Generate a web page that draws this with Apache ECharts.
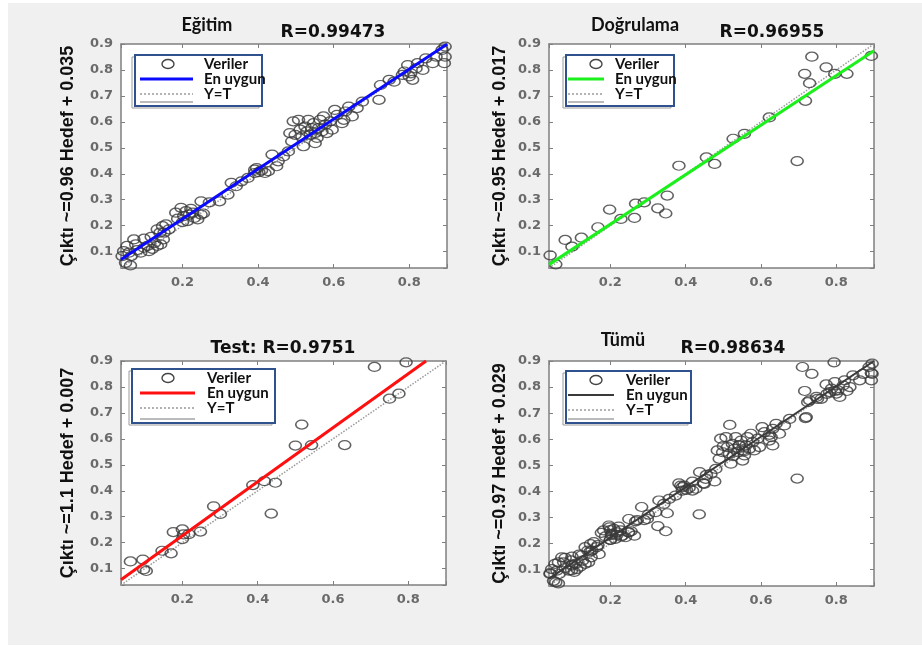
<!DOCTYPE html>
<html>
<head>
<meta charset="utf-8">
<script src="https://cdn.jsdelivr.net/npm/echarts@6/dist/echarts.min.js"></script>
<style>
  html, body { margin: 0; padding: 0; background: #fff; }
  #chart { width: 922px; height: 646px; }
</style>
</head>
<body>
<div id="chart"></div>
<script>
'use strict';

// axis range shared by all four panels
var AX_MIN = 0.037;
var AX_MAX = 0.9;

// Eğitim (training) points [hedef, çıktı]
var egitimPts = [
  [0.04, 0.083], [0.044, 0.102], [0.053, 0.122], [0.064, 0.083], [0.062, 0.047], [0.049, 0.057],
  [0.076, 0.128], [0.080, 0.106], [0.089, 0.096], [0.098, 0.115], [0.107, 0.122], [0.111, 0.102],
  [0.126, 0.134], [0.133, 0.122], [0.142, 0.128], [0.149, 0.147], [0.140, 0.173], [0.133, 0.186],
  [0.147, 0.198], [0.156, 0.205], [0.117, 0.157], [0.071, 0.147], [0.098, 0.150], [0.151, 0.173],
  [0.164, 0.186], [0.058, 0.096], [0.120, 0.111],
  [0.182, 0.250], [0.196, 0.269], [0.203, 0.237], [0.209, 0.256], [0.218, 0.243], [0.222, 0.265],
  [0.231, 0.230], [0.240, 0.224], [0.249, 0.243], [0.255, 0.247], [0.249, 0.294], [0.271, 0.290],
  [0.200, 0.214], [0.213, 0.218], [0.227, 0.250], [0.187, 0.227],
  [0.298, 0.294], [0.320, 0.320], [0.329, 0.365], [0.342, 0.352], [0.356, 0.371], [0.373, 0.384],
  [0.391, 0.403], [0.396, 0.422], [0.402, 0.406], [0.409, 0.413], [0.418, 0.403], [0.427, 0.410],
  [0.437, 0.474], [0.449, 0.429], [0.453, 0.448], [0.391, 0.416],
  [0.467, 0.467], [0.480, 0.486], [0.489, 0.525], [0.484, 0.557], [0.498, 0.550], [0.493, 0.602],
  [0.507, 0.608], [0.511, 0.570], [0.516, 0.544], [0.520, 0.506], [0.524, 0.582], [0.529, 0.563],
  [0.533, 0.608], [0.538, 0.550], [0.542, 0.576], [0.547, 0.595], [0.551, 0.557], [0.556, 0.538],
  [0.560, 0.576], [0.564, 0.608], [0.569, 0.563], [0.573, 0.621], [0.578, 0.589], [0.582, 0.557],
  [0.591, 0.602], [0.596, 0.570], [0.603, 0.646], [0.609, 0.627], [0.622, 0.595], [0.627, 0.608],
  [0.631, 0.640], [0.640, 0.659], [0.649, 0.621], [0.662, 0.653], [0.676, 0.678], [0.551, 0.518],
  [0.720, 0.685], [0.724, 0.742], [0.747, 0.762], [0.760, 0.755], [0.782, 0.781], [0.787, 0.794],
  [0.796, 0.819], [0.804, 0.787], [0.809, 0.762], [0.818, 0.806], [0.822, 0.826], [0.836, 0.800],
  [0.844, 0.845], [0.862, 0.826], [0.871, 0.851], [0.887, 0.877], [0.893, 0.826], [0.895, 0.851],
  [0.895, 0.890], [0.800, 0.775]
];

// Doğrulama (validation) points
var dogrulamaPts = [
  [0.04, 0.086], [0.055, 0.051], [0.080, 0.145], [0.098, 0.119], [0.123, 0.154], [0.167, 0.194],
  [0.198, 0.262], [0.228, 0.226], [0.264, 0.230], [0.267, 0.285], [0.290, 0.290], [0.326, 0.267],
  [0.347, 0.247], [0.351, 0.316], [0.382, 0.431], [0.455, 0.463], [0.477, 0.438], [0.526, 0.535],
  [0.556, 0.554], [0.622, 0.617], [0.696, 0.449], [0.716, 0.785], [0.718, 0.681], [0.729, 0.749],
  [0.735, 0.851], [0.773, 0.810], [0.796, 0.785], [0.828, 0.785], [0.893, 0.854]
];

// Test points
var testPts = [
  [0.062, 0.128], [0.095, 0.135], [0.097, 0.097], [0.104, 0.091], [0.146, 0.169], [0.170, 0.159],
  [0.176, 0.241], [0.200, 0.251], [0.203, 0.232], [0.200, 0.214], [0.217, 0.233], [0.248, 0.243],
  [0.283, 0.340], [0.301, 0.311], [0.387, 0.422], [0.418, 0.437], [0.447, 0.431], [0.436, 0.312],
  [0.500, 0.574], [0.517, 0.655], [0.543, 0.576], [0.631, 0.576], [0.710, 0.877], [0.750, 0.755],
  [0.775, 0.774], [0.794, 0.895]
];

// Tümü = all points
var tumuPts = egitimPts.concat(dogrulamaPts, testPts);

// fitted lines (end points) and the Y=T line
var egitimFit = [[0.037, 0.070], [0.9, 0.899]];
var dogrulamaFit = [[0.037, 0.050], [0.9, 0.874]];
var testFit = [[0.037, 0.057], [0.847, 0.9]];
var tumuFit = [[0.037, 0.065], [0.9, 0.9]];
var identityLine = [[0.037, 0.037], [0.9, 0.9]];

var panelTitles = ['Eğitim', 'Doğrulama', '', 'Tümü'];
var rTitles = ['R=0.99473', 'R=0.96955', 'Test: R=0.9751', 'R=0.98634'];
var yNames = [
  'Çıktı ~=0.96 Hedef + 0.035',
  'Çıktı ~=0.95 Hedef + 0.017',
  'Çıktı ~=1.1 Hedef + 0.007',
  'Çıktı ~=0.97 Hedef + 0.029'
];
var legendNames = ['Veriler', 'En uygun', 'Y=T'];

var panels = [
  { grid: { left: 121, top: 44, width: 326, height: 224 }, pts: egitimPts, fit: egitimFit, color: '#0a0aff', fitWidth: 3,
    titlePos: [207, 16], rPos: [333, 24], nameGap: 44, legend: { x: 135, y: 55, w: 127, h: 51, mark: 168, line: [140, 193], text: 204 } },
  { grid: { left: 549, top: 44, width: 325, height: 224 }, pts: dogrulamaPts, fit: dogrulamaFit, color: '#1cf01c', fitWidth: 3,
    titlePos: [635, 16], rPos: [772, 24], nameGap: 40, legend: { x: 566, y: 55, w: 108, h: 51, mark: 596, line: [568, 604], text: 615 } },
  { grid: { left: 121, top: 361, width: 325, height: 224 }, pts: testPts, fit: testFit, color: '#ff1010', fitWidth: 3,
    titlePos: [283, 340], rPos: [283, 340], nameGap: 44, legend: { x: 132, y: 369, w: 143, h: 54, mark: 168, line: [140, 195], text: 207 } },
  { grid: { left: 549, top: 361, width: 325, height: 225 }, pts: tumuPts, fit: tumuFit, color: '#3a3a3a', fitWidth: 2,
    titlePos: [623, 331], rPos: [733, 340], nameGap: 40, legend: { x: 566, y: 371, w: 125, h: 52, mark: 596, line: [568, 614], text: 626 } }
];

var AXIS_COLOR = '#7f7f7f';
var LABEL_STYLE = { fontFamily: 'DejaVu Sans', fontWeight: 'bold', fontSize: 13, color: '#6a6a6a' };

function stepLabel(step) {
  return function(v) {
    var r = Math.round(v / step) * step;
    return Math.abs(v - r) < 1e-6 ? r.toFixed(1) : '';
  };
}

function makeXAxis(i, top) {
  return {
    type: 'value', gridIndex: i, min: AX_MIN, max: AX_MAX, splitNumber: 4,
    position: top ? 'top' : 'bottom',
    axisLine: { show: true, onZero: false, lineStyle: { color: AXIS_COLOR, width: 1.5 } },
    axisTick: { show: true, inside: true, length: 4, lineStyle: { color: AXIS_COLOR } },
    axisLabel: top ? { show: false } : Object.assign({ margin: 8, formatter: stepLabel(0.2) }, LABEL_STYLE),
    splitLine: { show: false }
  };
}

function makeYAxis(i, right) {
  var ax = {
    type: 'value', gridIndex: i, min: AX_MIN, max: AX_MAX, splitNumber: 8,
    position: right ? 'right' : 'left',
    axisLine: { show: true, onZero: false, lineStyle: { color: AXIS_COLOR, width: 1.5 } },
    axisTick: { show: true, inside: true, length: 4, lineStyle: { color: AXIS_COLOR } },
    axisLabel: right ? { show: false } : Object.assign({ margin: 8, formatter: stepLabel(0.1) }, LABEL_STYLE),
    splitLine: { show: false }
  };
  if (!right) {
    ax.name = yNames[i];
    ax.nameLocation = 'middle';
    ax.nameRotate = 90;
    ax.nameGap = panels[i].nameGap;
    ax.nameTextStyle = { fontFamily: 'Liberation Sans', fontWeight: 'bold', fontSize: 18, color: '#111' };
  }
  return ax;
}

function legendGraphic(p) {
  var L = p.legend;
  var rowY = [L.y + 9, L.y + 24, L.y + 39];
  var els = [
    { type: 'rect', shape: { x: L.x - 3, y: L.y + 2, width: L.w, height: L.h }, style: { fill: 'none', stroke: '#9a9a9a', lineWidth: 1 } },
    { type: 'rect', shape: { x: L.x, y: L.y, width: L.w, height: L.h }, style: { fill: '#fff', stroke: '#2f528f', lineWidth: 2 } },
    { type: 'ellipse', shape: { cx: L.mark, cy: rowY[0], rx: 6, ry: 4.5 }, style: { fill: 'none', stroke: '#444', lineWidth: 1.4 } },
    { type: 'line', shape: { x1: L.line[0], y1: rowY[1], x2: L.line[1], y2: rowY[1] }, style: { stroke: p.color, lineWidth: p.fitWidth } },
    { type: 'line', shape: { x1: L.line[0], y1: rowY[2], x2: L.line[1], y2: rowY[2] }, style: { stroke: '#9a9a9a', lineWidth: 1.5, lineDash: [2, 2] } },
    { type: 'line', shape: { x1: L.line[0], y1: L.y + L.h - 4, x2: L.line[1], y2: L.y + L.h - 4 }, style: { stroke: '#777', lineWidth: 1 } }
  ];
  legendNames.forEach(function(name, k) {
    els.push({
      type: 'text', x: L.text, y: rowY[k],
      style: { text: name, fontFamily: 'Lato', fontWeight: 'bold', fontSize: 15, fill: '#111', verticalAlign: 'middle' }
    });
  });
  return els;
}

var grids = [], xAxes = [], yAxes = [], series = [], titles = [];
var graphics = [
  { type: 'rect', z: -10, shape: { x: 8, y: 3, width: 914, height: 642 }, style: { fill: '#f0f0f0' } }
];

panels.forEach(function(p) {
  grids.push(Object.assign({ show: true, backgroundColor: '#fff', borderWidth: 0 }, p.grid));
});
panels.forEach(function(p, i) { xAxes.push(makeXAxis(i, false)); });
panels.forEach(function(p, i) { xAxes.push(makeXAxis(i, true)); });
panels.forEach(function(p, i) { yAxes.push(makeYAxis(i, false)); });
panels.forEach(function(p, i) { yAxes.push(makeYAxis(i, true)); });

panels.forEach(function(p, i) {
  series.push({
    type: 'line', xAxisIndex: i, yAxisIndex: i, data: identityLine, showSymbol: false, silent: true,
    lineStyle: { color: '#9a9a9a', width: 1.5, type: 'dotted' }, z: 2
  });
  series.push({
    type: 'scatter', xAxisIndex: i, yAxisIndex: i, data: p.pts, symbol: 'circle', symbolSize: [12, 9],
    itemStyle: { color: 'rgba(0,0,0,0)', borderColor: '#3a3a3a', borderWidth: 1.4 }, z: 3
  });
  series.push({
    type: 'line', xAxisIndex: i, yAxisIndex: i, data: p.fit, showSymbol: false, silent: true,
    lineStyle: { color: p.color, width: p.fitWidth }, z: 4
  });

  if (panelTitles[i]) {
    titles.push({
      text: panelTitles[i], left: p.titlePos[0], top: p.titlePos[1], textAlign: 'center', padding: 0,
      textStyle: { fontFamily: 'Lato', fontWeight: 'bold', fontSize: 18, color: '#111' }
    });
  }
  titles.push({
    text: rTitles[i], left: p.rPos[0], top: p.rPos[1], textAlign: 'center', padding: 0,
    textStyle: { fontFamily: 'DejaVu Sans', fontWeight: 'bold', fontSize: 17, color: '#111' }
  });

  graphics = graphics.concat(legendGraphic(p));
});

var chart = echarts.init(document.getElementById('chart'));
chart.setOption({
  backgroundColor: '#ffffff',
  animation: false,
  title: titles,
  grid: grids,
  xAxis: xAxes,
  yAxis: yAxes,
  series: series,
  graphic: graphics
});
</script>
</body>
</html>
